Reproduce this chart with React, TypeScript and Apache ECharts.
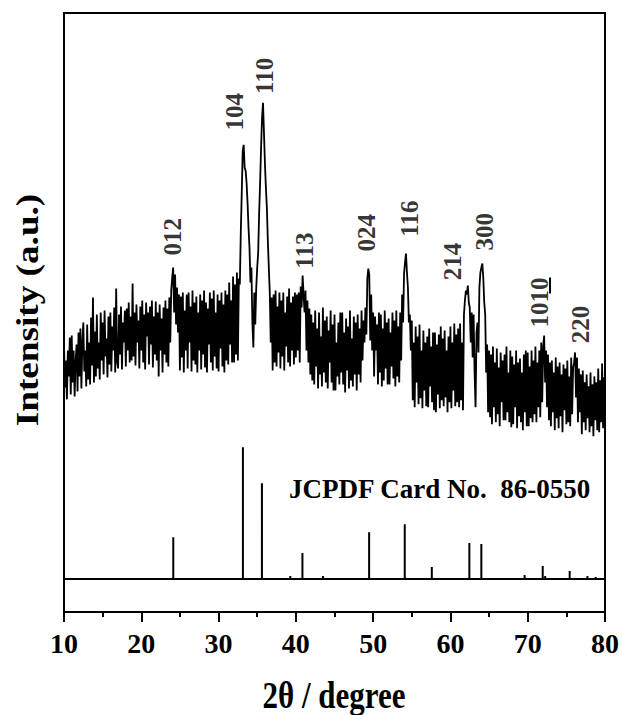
import React, { useEffect, useRef } from "react";
import * as echarts from "echarts";

// Measured XRD pattern (2θ from 10° to 80°, step 0.125°), arbitrary intensity units
const TWO_THETA_START = 10;
const TWO_THETA_STEP = 0.125;
const intensity = [
  268, 225, 252, 213, 262, 236, 275, 218, // 10
  277, 230, 262, 216, 250, 268, 221, 280, // 11
  236, 284, 224, 270, 290, 241, 262, 226, // 12
  288, 233, 270, 228, 295, 247, 315, 230, // 13
  281, 236, 298, 244, 270, 233, 300, 252, // 14
  290, 238, 302, 256, 274, 235, 296, 248, // 15
  300, 241, 286, 262, 305, 240, 324, 250, // 16
  244, 298, 258, 306, 243, 290, 270, 302, // 17
  246, 304, 262, 310, 250, 296, 252, 329, // 18
  256, 300, 247, 308, 270, 292, 244, 306, // 19
  262, 312, 250, 298, 243, 310, 276, 300, // 20
  248, 306, 268, 312, 245, 296, 258, 311, // 21
  252, 300, 236, 308, 262, 294, 240, 305, // 22
  258, 312, 250, 304, 246, 315, 270, 322, // 23
  335, 345, 300, 338, 288, 325, 280, 318, // 24
  242, 316, 255, 320, 240, 302, 262, 318, // 25
  244, 320, 270, 306, 241, 322, 252, 310, // 26
  248, 316, 240, 300, 262, 318, 243, 312, // 27
  258, 322, 245, 310, 240, 304, 268, 320, // 28
  250, 314, 242, 322, 256, 300, 244, 318, // 29
  241, 312, 264, 320, 246, 308, 240, 322, // 30
  252, 318, 248, 330, 268, 312, 250, 336, // 31
  250, 328, 258, 340, 252, 334, 328, 380, // 32
  420, 462, 468, 445, 442, 430, 410, 385, // 33
  365, 330, 345, 290, 265, 320, 288, 325, // 34
  345, 360, 400, 430, 465, 495, 510, 480, // 35
  449, 425, 405, 372, 345, 320, 270, 315, // 36
  242, 318, 250, 322, 246, 306, 260, 320, // 37
  244, 312, 256, 320, 242, 300, 266, 316, // 38
  250, 324, 246, 310, 262, 316, 248, 320, // 39
  255, 318, 262, 320, 250, 326, 305, 337, // 40
  318, 300, 322, 262, 312, 250, 304, 238, // 41
  298, 232, 290, 228, 302, 246, 284, 224, // 42
  300, 238, 276, 226, 305, 240, 292, 230, // 43
  296, 224, 282, 250, 302, 230, 288, 222, // 44
  298, 222, 270, 236, 290, 228, 300, 240, // 45
  300, 228, 280, 220, 294, 242, 286, 224, // 46
  302, 232, 274, 226, 296, 238, 290, 222, // 47
  298, 238, 284, 230, 302, 252, 292, 270, // 48
  305, 278, 334, 344, 338, 272, 318, 262, // 49
  300, 236, 296, 262, 288, 228, 300, 240, // 50
  298, 226, 284, 232, 302, 244, 290, 228, // 51
  294, 228, 280, 246, 300, 234, 292, 226, // 52
  302, 236, 286, 230, 300, 252, 318, 290, // 53
  339, 350, 359, 340, 325, 290, 298, 262, // 54
  292, 212, 270, 205, 286, 230, 276, 208, // 55
  288, 214, 262, 204, 282, 222, 270, 206, // 56
  276, 205, 284, 226, 266, 210, 280, 202, // 57
  280, 200, 268, 218, 278, 204, 286, 212, // 58
  274, 206, 282, 215, 262, 200, 276, 210, // 59
  286, 204, 270, 222, 289, 206, 278, 210, // 60
  284, 205, 289, 212, 270, 202, 298, 312, // 61
  322, 318, 327, 310, 305, 270, 300, 255, // 62
  298, 240, 205, 280, 290, 260, 325, 340, // 63
  345, 349, 335, 310, 298, 240, 268, 200, // 64
  262, 195, 258, 188, 266, 205, 250, 190, // 65
  264, 198, 245, 186, 260, 210, 252, 192, // 66
  258, 192, 266, 200, 240, 190, 262, 185, // 67
  256, 188, 248, 205, 262, 184, 250, 196, // 68
  254, 190, 240, 182, 258, 200, 262, 186, // 69
  260, 186, 246, 194, 262, 190, 252, 198, // 70
  266, 190, 250, 205, 262, 195, 270, 210, // 71
  265, 277, 230, 262, 205, 258, 192, 250, // 72
  186, 252, 200, 240, 182, 255, 194, 246, // 73
  184, 250, 196, 238, 180, 248, 202, 244, // 74
  188, 252, 190, 236, 186, 255, 198, 245, // 75
  250, 260, 215, 255, 190, 244, 200, 238, // 76
  178, 242, 190, 230, 182, 238, 194, 226, // 77
  180, 240, 186, 228, 176, 236, 192, 230, // 78
  182, 244, 180, 232, 190, 249, 184, 235, // 79
  215, // 80
];

// Reference pattern (JCPDF Card No. 86-0550)
const refPositions = [24.14, 33.15, 35.61, 39.28, 40.85, 43.52, 49.48, 54.09, 56.15, 57.59, 62.45, 64.0, 69.6, 71.94, 72.26, 75.43, 77.73, 78.8];
const refIntensities = [42, 132, 96, 3, 26, 3, 47, 55, 1, 12, 36, 35, 4, 13, 3, 8, 3, 2];
const REF_BASE = 33;

// Peak (hkl) annotations
const peakLabels = ["012", "104", "110", "113", "024", "116", "214", "300", "1010", "220"];
const peakLabelX = [24.08, 32.08, 35.96, 41.12, 49.13, 54.69, 60.24, 64.37, 71.47, 76.77];
const peakLabelY = [376, 501, 537, 362, 380, 394, 351, 381, 310, 288];
const underlineX = 72.8;
const underlineY = [319, 335];

const X_MIN = 10;
const X_MAX = 80;
const X_INTERVAL = 10;

const SERIF = '"Liberation Serif", "Times New Roman", serif';

export default function App() {
  const ref = useRef<HTMLDivElement>(null);

  useEffect(() => {
    if (!ref.current) return;
    const chart = echarts.init(ref.current, undefined, { renderer: "svg" });

    const pattern = intensity.map((v, i) => [TWO_THETA_START + i * TWO_THETA_STEP, v]);
    const sticks: number[][] = [[X_MIN, REF_BASE]];
    refPositions.forEach((x, i) => {
      sticks.push([x, REF_BASE], [x, REF_BASE + refIntensities[i]], [x, REF_BASE]);
    });
    sticks.push([X_MAX, REF_BASE]);

    const labelData = peakLabels.map((name, i) => ({ name, value: [peakLabelX[i], peakLabelY[i]] }));

    chart.setOption({
      animation: false,
      grid: { left: 64, right: 16, top: 13, bottom: 103, show: true, borderColor: "#000", borderWidth: 2 },
      xAxis: {
        type: "value",
        min: X_MIN,
        max: X_MAX,
        interval: X_INTERVAL,
        axisLine: { lineStyle: { color: "#000", width: 2 } },
        axisTick: { inside: false, length: 10, lineStyle: { color: "#000", width: 2 } },
        minorTick: { show: true, splitNumber: 2, length: 5, lineStyle: { color: "#000", width: 2 } },
        splitLine: { show: false },
        axisLabel: { color: "#000", fontFamily: SERIF, fontWeight: "bold", fontSize: 28, margin: 17 },
      },
      yAxis: { type: "value", min: 0, max: 600, show: false },
      series: [
        {
          type: "line",
          data: pattern,
          showSymbol: false,
          silent: true,
          lineStyle: { color: "#000", width: 1.8 },
        },
        {
          type: "line",
          data: sticks,
          showSymbol: false,
          silent: true,
          lineStyle: { color: "#000", width: 2 },
        },
        {
          type: "scatter",
          data: labelData,
          symbolSize: 0,
          silent: true,
          label: {
            show: true,
            position: "inside",
            rotate: 90,
            formatter: "{b}",
            color: "#000",
            fontFamily: SERIF,
            fontWeight: "bold",
            fontSize: 25,
          },
          markLine: {
            silent: true,
            symbol: ["none", "none"],
            label: { show: false },
            lineStyle: { color: "#000", width: 2, type: "solid" },
            data: [[{ coord: [underlineX, underlineY[0]] }, { coord: [underlineX, underlineY[1]] }]],
          },
        },
      ],
      graphic: [
        {
          type: "text",
          x: 289,
          y: 489,
          style: {
            text: "JCPDF Card No.  86-0550",
            fill: "#000",
            fontFamily: SERIF,
            fontWeight: "bold",
            fontSize: 27,
            align: "left",
            verticalAlign: "middle",
          },
        },
        {
          type: "text",
          x: 334,
          y: 695,
          scaleY: 1.22,
          style: {
            text: "2θ / degree",
            fill: "#000",
            fontFamily: SERIF,
            fontWeight: "bold",
            fontSize: 31,
            align: "center",
            verticalAlign: "middle",
          },
        },
        {
          type: "text",
          x: 27,
          y: 310,
          rotation: Math.PI / 2,
          scaleX: 1.2,
          style: {
            text: "Intensity (a.u.)",
            fill: "#000",
            fontFamily: SERIF,
            fontWeight: "bold",
            fontSize: 31,
            align: "center",
            verticalAlign: "middle",
          },
        },
      ],
    });

    return () => chart.dispose();
  }, []);

  return <div ref={ref} style={{ position: "absolute", left: 0, top: 0, width: 622, height: 715 }} />;
}
